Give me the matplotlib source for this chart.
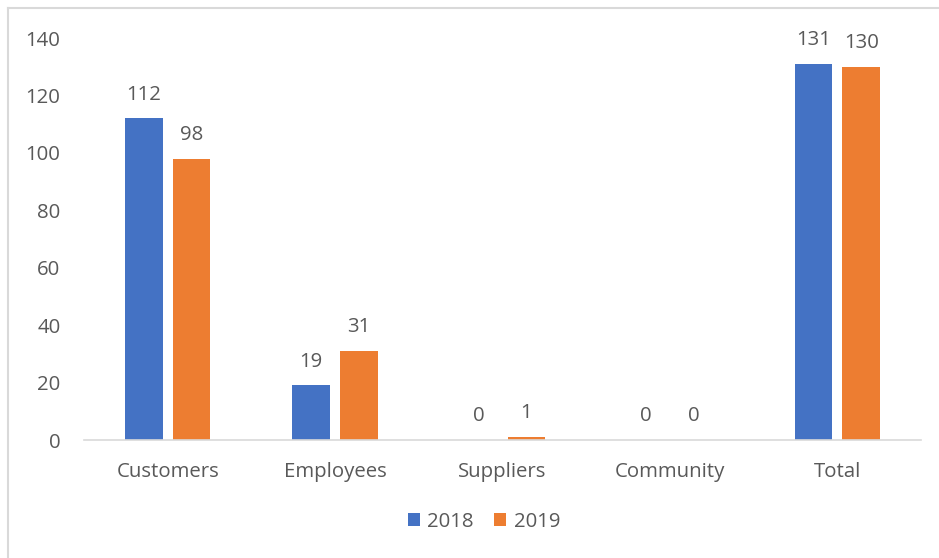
import matplotlib
matplotlib.use("Agg")
import matplotlib.pyplot as plt
import numpy as np
from matplotlib.lines import Line2D

categories = ["Customers", "Employees", "Suppliers", "Community", "Total"]
years = ["2018", "2019"]
values_2018 = [112, 19, 0, 0, 131]
values_2019 = [98, 31, 1, 0, 130]
y_ticks = [0, 20, 40, 60, 80, 100, 120, 140]

colors = ["#4472C4", "#ED7D31"]
text_color = "#595959"
fs = 14.7
plt.rcParams["font.family"] = ["Open Sans", "DejaVu Sans"]

W, H = 939, 558
fig = plt.figure(figsize=(W / 100, H / 100), dpi=100)
ax = fig.add_axes([84 / W, (H - 440) / H, (921 - 84) / W, (440 - 38) / H])

x = np.arange(len(categories))
width = 0.225
offset = 0.143
for i, (vals, year) in enumerate(zip((values_2018, values_2019), years)):
    pos = x + (-offset if i == 0 else offset)
    bars = ax.bar(pos, vals, width, color=colors[i], label=year, zorder=2)
    for b, v in zip(bars, vals):
        ax.annotate(str(v), (b.get_x() + b.get_width() / 2, v),
                    xytext=(0, 10), textcoords="offset points",
                    ha="center", va="bottom", fontsize=fs, color=text_color)

ax.set_xlim(-0.5, len(categories) - 0.5)
ax.set_ylim(0, 140)
ax.set_yticks(y_ticks)
ax.set_xticks(x)
ax.set_xticklabels(categories)
ax.tick_params(axis="both", length=0, labelsize=fs, labelcolor=text_color)
ax.tick_params(axis="y", pad=17)
ax.tick_params(axis="x", pad=16)
for side in ("top", "right", "left"):
    ax.spines[side].set_visible(False)
ax.spines["bottom"].set_color("#D9D9D9")
ax.spines["bottom"].set_linewidth(1.2)

fig.legend(loc="center", bbox_to_anchor=(484 / W, (H - 522) / H), ncol=2,
           frameon=False, fontsize=fs, labelcolor=text_color,
           handlelength=0.6, handleheight=0.6, handletextpad=0.35,
           columnspacing=1.0)

# chart-area border: only the left and top edges are visible in the frame
border = dict(transform=fig.transFigure, color="#D9D9D9", linewidth=1.5)
fig.lines.append(Line2D([7.5 / W, 7.5 / W], [0, (H - 8) / H], **border))
fig.lines.append(Line2D([7.5 / W, 1], [(H - 8) / H, (H - 8) / H], **border))

fig.savefig("out.png", dpi=100)
